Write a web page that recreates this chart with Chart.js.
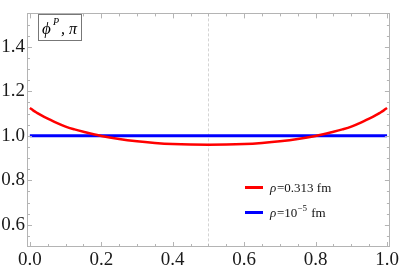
<!DOCTYPE html>
<html>
<head>
<meta charset="utf-8">
<script src="https://cdn.jsdelivr.net/npm/chart.js@4.4.0/dist/chart.umd.min.js"></script>
<style>
body { margin: 0; background: #fff; }
canvas { display: block; }
</style>
</head>
<body>
<canvas id="phiChart" width="401" height="273"></canvas>
<script>
// values
var xs      = [0, 0.01, 0.02, 0.035, 0.05, 0.075, 0.1, 0.125, 0.15, 0.2, 0.25, 0.3, 0.35, 0.4, 0.45, 0.5,
               0.55, 0.6, 0.65, 0.7, 0.75, 0.8, 0.85, 0.875, 0.9, 0.925, 0.95, 0.965, 0.98, 0.99, 1];
var rhoBig  = [1.125, 1.113, 1.103, 1.089, 1.077, 1.058, 1.041, 1.0285, 1.018, 0.999, 0.985, 0.975, 0.968, 0.963, 0.9605, 0.960,
               0.9605, 0.963, 0.968, 0.975, 0.985, 0.999, 1.018, 1.0285, 1.041, 1.058, 1.077, 1.089, 1.103, 1.113, 1.125];
var rhoSmall = [1, 1];
var rhoSmallX = [0, 1];
var xTicks = [0, 0.2, 0.4, 0.6, 0.8, 1.0];
var yTicks = [0.6, 0.8, 1.0, 1.2, 1.4];
var legendLabels = ["0.313 fm", "10", "\u22125", " fm"];

var serif = "'Liberation Serif', 'DejaVu Serif', serif";

function pts(x, y) {
    return x.map(function (v, i) { return {x: v, y: y[i]}; });
}

// frame, inside ticks, dashed line at 0.5, label box, legend
var decor = {
    id: 'decor',
    beforeDatasetsDraw: function (chart) {
        var c = chart.ctx, a = chart.chartArea, sx = chart.scales.x;
        var px = Math.round(sx.getPixelForValue(0.5)) + 0.5;
        c.save();
        c.strokeStyle = '#d4d4d4';
        c.lineWidth = 1;
        c.setLineDash([3, 2]);
        c.beginPath();
        c.moveTo(px, a.top);
        c.lineTo(px, a.bottom);
        c.stroke();
        c.restore();
    },
    afterDatasetsDraw: function (chart) {
        var c = chart.ctx, a = chart.chartArea, sx = chart.scales.x, sy = chart.scales.y;
        c.save();
        c.strokeStyle = '#b4b4b4';
        c.lineWidth = 1;
        c.strokeRect(Math.round(a.left) + 0.5, Math.round(a.top) + 0.5,
                     Math.round(a.right - a.left) - 1, Math.round(a.bottom - a.top) - 1);
        c.beginPath();
        for (var i = 0; i <= 20; i++) {
            var v = i * 0.05;
            var len = (i % 4 == 0) ? 5 : 3;
            var p = Math.round(sx.getPixelForValue(v)) + 0.5;
            c.moveTo(p, a.bottom); c.lineTo(p, a.bottom - len);
            c.moveTo(p, a.top); c.lineTo(p, a.top + len);
        }
        for (var j = 0; j <= 21; j++) {
            var ln = (j % 4 == 2) ? 5 : 3;
            var q = Math.round(sy.getPixelForValue(0.5 + j * 0.05)) + 0.5;
            if (q < a.top || q > a.bottom) continue;
            c.moveTo(a.left, q); c.lineTo(a.left + ln, q);
            c.moveTo(a.right, q); c.lineTo(a.right - ln, q);
        }
        c.stroke();

        // label box
        c.fillStyle = '#fff';
        c.fillRect(38, 14, 44, 27);
        c.strokeStyle = '#777';
        c.strokeRect(38.5, 14.5, 43, 26);
        c.fillStyle = '#000';
        c.textBaseline = 'alphabetic';
        c.font = 'italic 17px ' + serif;
        c.fillText('\u03D5', 42, 34);
        c.font = 'italic 10px ' + serif;
        c.fillText('P', 53, 25);
        c.font = 'italic 16px ' + serif;
        c.fillText(',', 61, 34);
        c.fillText('\u03C0', 69, 34);

        // legend
        c.lineWidth = 3;
        c.strokeStyle = '#ff0000';
        c.beginPath(); c.moveTo(245, 187.5); c.lineTo(263, 187.5); c.stroke();
        c.strokeStyle = '#0000ff';
        c.beginPath(); c.moveTo(245, 212.5); c.lineTo(263, 212.5); c.stroke();
        c.fillStyle = '#111';
        c.font = 'italic 13px ' + serif;
        c.fillText('\u03C1', 270, 192);
        c.fillText('\u03C1', 270, 217);
        c.font = '13px ' + serif;
        c.fillText('=' + legendLabels[0], 277, 192);
        c.fillText('=' + legendLabels[1], 277, 217);
        var wTen = c.measureText('=' + legendLabels[1]).width;
        c.font = '9px ' + serif;
        c.fillText(legendLabels[2], 277 + wTen, 211);
        var wExp = c.measureText(legendLabels[2]).width;
        c.font = '13px ' + serif;
        c.fillText(legendLabels[3], 277 + wTen + wExp + 1, 217);
        c.restore();
    }
};

var ctx = document.getElementById('phiChart').getContext('2d');
var chart = new Chart(ctx, {
    type: 'line',
    data: {
        datasets: [{
            label: 'rho=0.313 fm',
            data: pts(xs, rhoBig),
            borderColor: '#ff0000',
            borderWidth: 2.5,
            pointRadius: 0,
            cubicInterpolationMode: 'monotone',
            fill: false
        }, {
            label: 'rho=1e-5 fm',
            data: pts(rhoSmallX, rhoSmall),
            borderColor: '#0000ff',
            borderWidth: 3,
            pointRadius: 0,
            fill: false
        }]
    },
    options: {
        responsive: false,
        animation: false,
        layout: { padding: { top: 3, right: 10, left: 0, bottom: 0 } },
        plugins: { legend: { display: false }, tooltip: { enabled: false } },
        scales: {
            x: {
                type: 'linear',
                min: -0.008,
                max: 1.008,
                afterBuildTicks: function (s) { s.ticks = xTicks.map(function (v) { return {value: v}; }); },
                afterFit: function (s) { s.height = 26; },
                grid: { display: false, drawTicks: false },
                border: { display: false },
                ticks: {
                    padding: 2,
                    color: '#1a1a1a',
                    font: { family: serif, size: 19 },
                    maxRotation: 0,
                    callback: function (v) { return v.toFixed(1); }
                }
            },
            y: {
                min: 0.5,
                max: 1.55,
                afterBuildTicks: function (s) { s.ticks = yTicks.map(function (v) { return {value: v}; }); },
                afterFit: function (s) { s.width = 27; },
                grid: { display: false, drawTicks: false },
                border: { display: false },
                ticks: {
                    padding: 2,
                    color: '#1a1a1a',
                    font: { family: serif, size: 19 },
                    callback: function (v) { return v.toFixed(1); }
                }
            }
        }
    },
    plugins: [decor]
});
</script>
</body>
</html>
